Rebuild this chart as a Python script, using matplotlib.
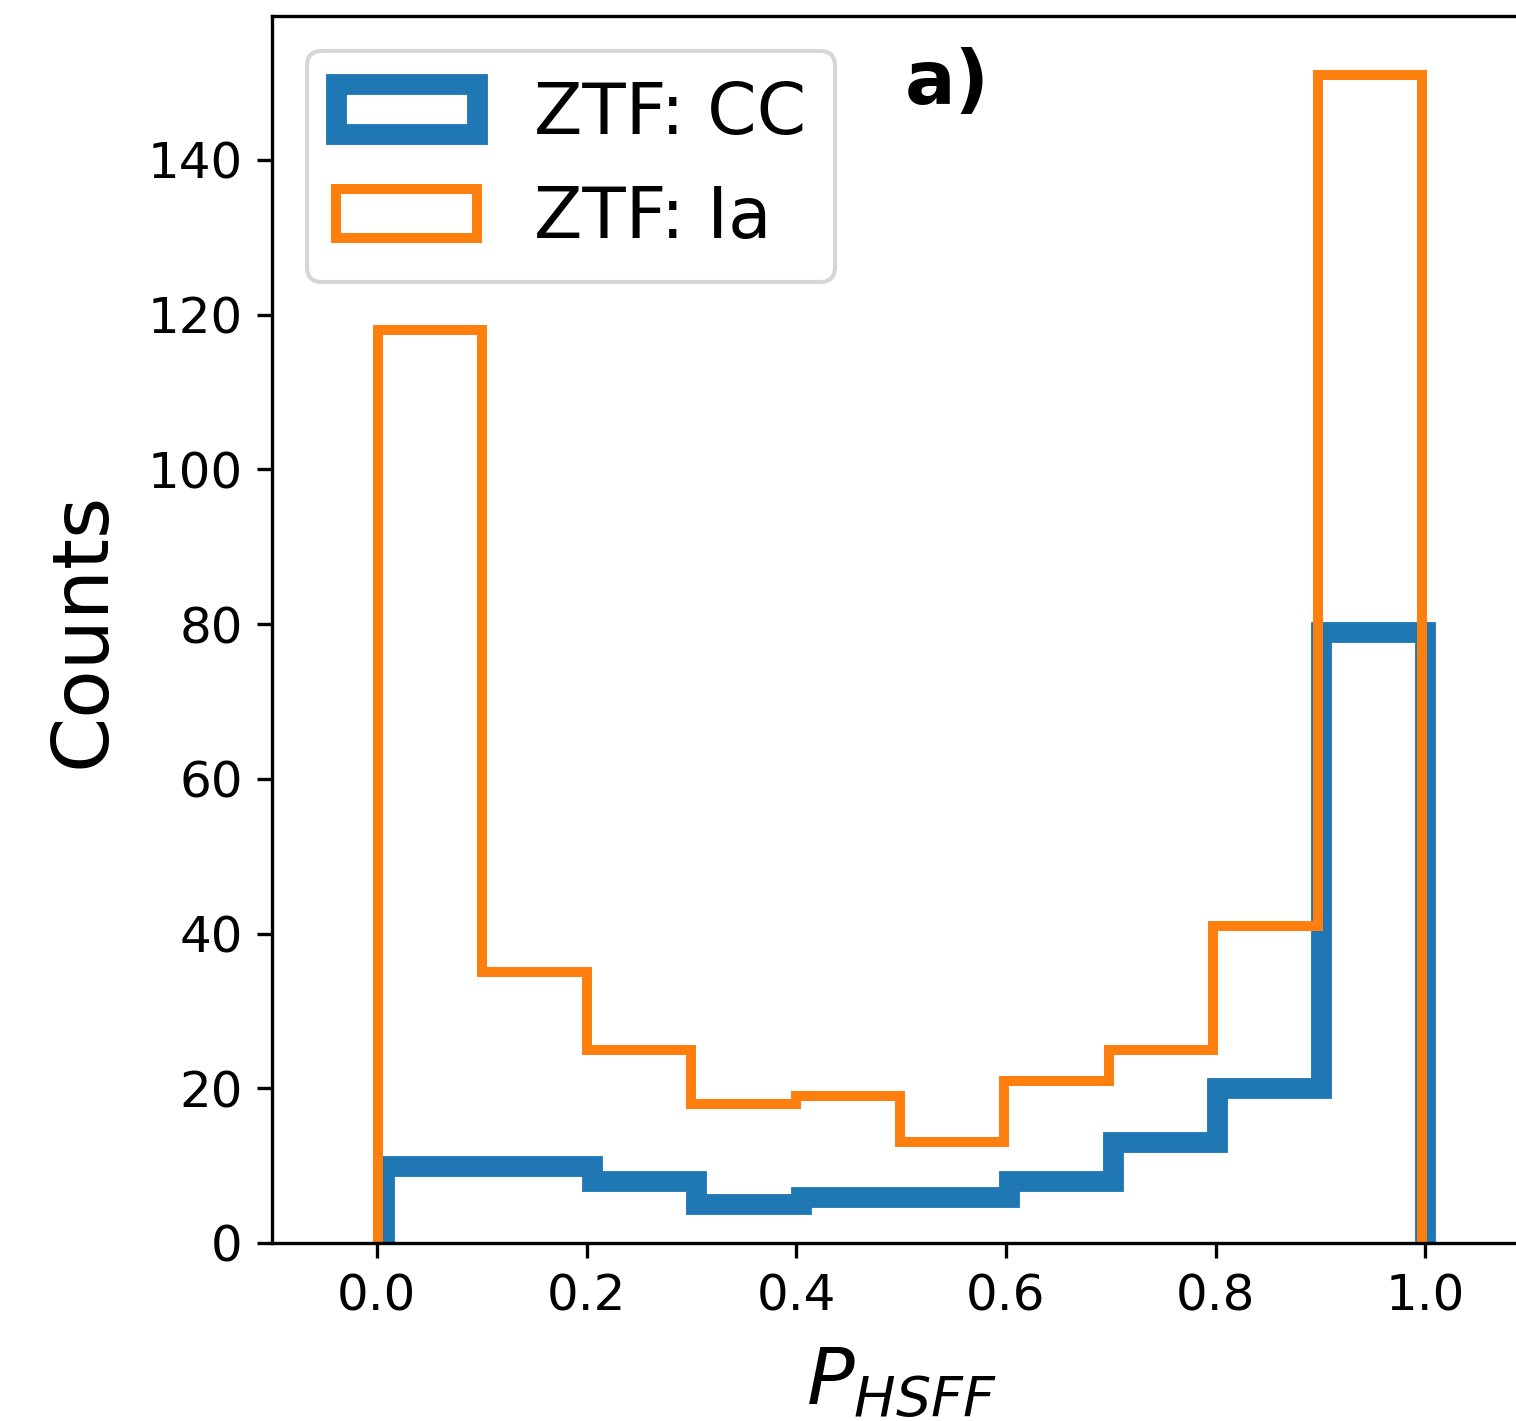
import matplotlib
matplotlib.use("Agg")
import matplotlib.pyplot as plt
import numpy as np

# === Data ===
cc_counts = [10, 10, 8, 5, 6, 6, 8, 13, 20, 79]
ia_counts = [118, 35, 25, 18, 19, 13, 21, 25, 41, 151]
cc_edges = np.linspace(0.007, 1.0, 11)
ia_edges = np.linspace(0.001, 0.997, 11)
x_ticks = [0.0, 0.2, 0.4, 0.6, 0.8, 1.0]
y_ticks = [0, 20, 40, 60, 80, 100, 120, 140]

# === Plot ===
fig = plt.figure(figsize=(1516 / 300, 1421 / 300), dpi=300)
ax = fig.add_axes([272 / 1516, 178 / 1421, 1258 / 1516, 1227 / 1421])

cc_centers = (cc_edges[:-1] + cc_edges[1:]) / 2
ia_centers = (ia_edges[:-1] + ia_edges[1:]) / 2
ax.hist(cc_centers, bins=cc_edges, weights=cc_counts, histtype="step",
        lw=5, color="#1f77b4", label="ZTF: CC")
ax.hist(ia_centers, bins=ia_edges, weights=ia_counts, histtype="step",
        lw=2.4, color="#ff7f0e", label="ZTF: Ia")

ax.set_xlim(-0.1, 1.1)
ax.set_ylim(0, 158.6)
ax.set_xticks(x_ticks)
ax.set_yticks(y_ticks)
ax.tick_params(labelsize=12)
ax.set_xlabel("$P_{HSFF}$", fontsize=19, labelpad=6)
ax.set_ylabel("Counts", fontsize=19, labelpad=6.5)
ax.legend(loc="upper left", fontsize=17)
ax.text(0.503, 0.975, "a)", transform=ax.transAxes, fontsize=18,
        fontweight="bold", ha="left", va="top")

fig.savefig("out.png", dpi=300)
